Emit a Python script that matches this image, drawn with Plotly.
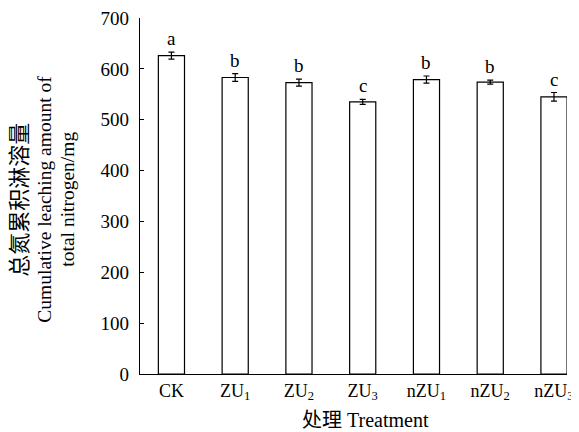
import plotly.graph_objects as go

categories = ["CK", "ZU<sub>1</sub>", "ZU<sub>2</sub>", "ZU<sub>3</sub>",
              "nZU<sub>1</sub>", "nZU<sub>2</sub>", "nZU<sub>3</sub>"]
values = [626, 583, 573, 535, 579, 574, 545]
errors = [7, 7.5, 7, 5, 7, 4, 8.5]
letters = ["a", "b", "b", "c", "b", "b", "c"]
y_ticks = [0, 100, 200, 300, 400, 500, 600, 700]
y_title_lines = ["总氮累积淋溶量", "Cumulative leaching amount of", "total nitrogen/mg"]
x_title = "处理 Treatment"

FONT = "Liberation Serif, Times New Roman, Noto Sans CJK SC, serif"
PLOT_L, PLOT_W, PLOT_B, PLOT_H = 132, 427.5, 366, 356.5

fig = go.Figure()
fig.add_trace(go.Bar(
    x=list(range(len(categories))), y=values, width=0.41,
    marker=dict(color="white", line=dict(color="black", width=1.2)),
    error_y=dict(type="data", array=errors, color="black", thickness=1.2, width=3),
    showlegend=False,
))

for i, (v, e, l) in enumerate(zip(values, errors, letters)):
    fig.add_annotation(x=i, y=v + e, text=l, showarrow=False, yanchor="bottom",
                       yshift=1, font=dict(family=FONT, size=19, color="black"))

fig.add_annotation(xref="paper", yref="paper", x=(358 - PLOT_L) / PLOT_W,
                   y=-(412 - PLOT_B) / PLOT_H, text=x_title, showarrow=False,
                   xanchor="center", yanchor="middle",
                   font=dict(family=FONT, size=20, color="black"))

for line, cx, size in zip(y_title_lines, [11, 36, 59], [22, 19.5, 19.5]):
    fig.add_annotation(xref="paper", yref="paper", x=(cx - PLOT_L) / PLOT_W, y=0.49,
                       text=line, showarrow=False, textangle=-90,
                       xanchor="center", yanchor="middle",
                       font=dict(family=FONT, size=size, color="black"))

fig.update_layout(
    width=571, height=424,
    margin=dict(l=PLOT_L, r=571 - PLOT_L - PLOT_W, t=9.5, b=424 - PLOT_B),
    plot_bgcolor="white", paper_bgcolor="white",
    font=dict(family=FONT, size=18, color="black"),
    xaxis=dict(range=[-0.493, 6.204], tickvals=list(range(len(categories))),
               ticktext=categories, showline=True, linecolor="black", linewidth=1.2,
               ticks="", showgrid=False, zeroline=False, automargin=False,
               ticklabeloverflow="allow",
               tickfont=dict(family=FONT, size=18)),
    yaxis=dict(range=[0, 700], tickvals=y_ticks, showline=True, linecolor="black",
               linewidth=1.2, ticks="inside", ticklen=4, tickcolor="black",
               showgrid=False, zeroline=False, ticklabelstandoff=6, automargin=False,
               ticklabeloverflow="allow",
               tickfont=dict(family=FONT, size=19)),
)

fig.write_html("out.html")
